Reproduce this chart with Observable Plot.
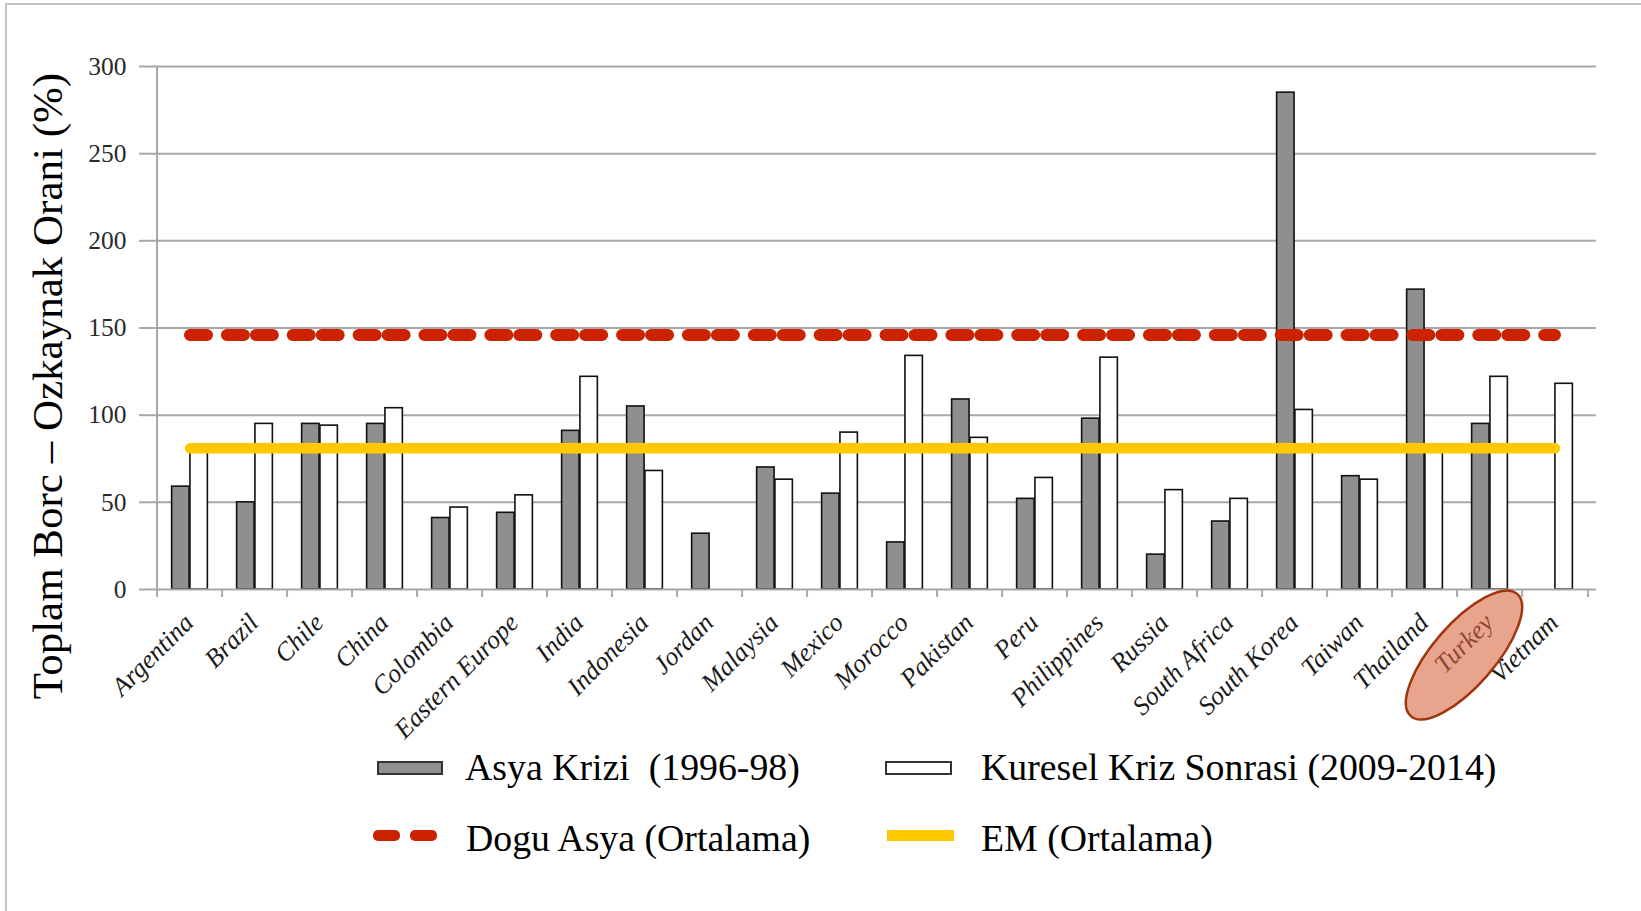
<!DOCTYPE html>
<html>
<head>
<meta charset="utf-8">
<script src="https://cdn.jsdelivr.net/npm/d3@7"></script>
<script src="https://cdn.jsdelivr.net/npm/@observablehq/plot@0.6"></script>
<style>
  html, body { margin: 0; padding: 0; background: #fff; width: 1641px; height: 911px; overflow: hidden; }
  #frame { position: absolute; left: 5px; top: 3px; width: 1700px; height: 1000px; border: 2px solid #c4c4c4; box-sizing: border-box; }
  #chart { position: absolute; left: 0; top: 0; }
  #chart svg [aria-label="x-axis tick label"] text { font-style: italic; }
  .lg { position: absolute; font-family: "Liberation Serif", serif; font-size: 37.8px; line-height: 36px; color: #000; white-space: pre; }
  .sw { position: absolute; box-sizing: border-box; }
</style>
</head>
<body>
<div id="frame"></div>
<div id="chart"></div>
<div id="legend"></div>
<script>
// Debt-to-equity ratios by country, two periods
const countries = ["Argentina", "Brazil", "Chile", "China", "Colombia", "Eastern Europe", "India",
  "Indonesia", "Jordan", "Malaysia", "Mexico", "Morocco", "Pakistan", "Peru", "Philippines",
  "Russia", "South Africa", "South Korea", "Taiwan", "Thailand", "Turkey", "Vietnam"];
const asyaKrizi   = [59, 50, 95, 95, 41, 44, 91, 105, 32, 70, 55, 27, 109, 52, 98, 20, 39, 285, 65, 172, 95, null];
const kureselKriz = [82, 95, 94, 104, 47, 54, 122, 68, null, 63, 90, 134, 87, 64, 133, 57, 52, 103, 63, 80, 122, 118];
const doguAsyaOrtalama = 146;
const emOrtalama = 81;
const yTicks = [0, 50, 100, 150, 200, 250, 300];
const seriesNames = ["Asya Krizi  (1996-98)", "Kuresel Kriz Sonrasi (2009-2014)", "Dogu Asya (Ortalama)", "EM (Ortalama)"];
const yTitle = "Toplam Borc \u2013 Ozkaynak Orani (%)";
const highlighted = "Turkey";

// layout
const W = 1641, H = 750, ML = 147, MR = 45, MT = 66, MB = 161;
const bw = (W - ML - MR) / countries.length;
const barW = 18.3;
const grid = "#a8a8a8";

const asyaRows = countries.map((c, i) => ({country: c, value: asyaKrizi[i]})).filter(d => d.value != null);
const kureselRows = countries.map((c, i) => ({country: c, value: kureselKriz[i]})).filter(d => d.value != null);
const doguRows = countries.map(c => ({country: c, value: doguAsyaOrtalama}));
const emRows = countries.map(c => ({country: c, value: emOrtalama}));

// long dashes in pairs, one pair per category step
const dash = 17, gapS = 12, gapL = bw - 2 * dash - gapS;

const plot = Plot.plot({
  width: W,
  height: H,
  marginLeft: ML,
  marginRight: MR,
  marginTop: MT,
  marginBottom: MB,
  style: {fontFamily: '"Liberation Serif", serif', background: "transparent", overflow: "visible"},
  x: {type: "band", domain: countries, padding: 0, label: null},
  y: {domain: [0, 300], label: null},
  marks: [
    Plot.ruleY(yTicks.filter(t => t > 0), {stroke: grid, strokeWidth: 2}),
    Plot.barY(asyaRows, {x: "country", y: "value", fill: "#8f8f8f", stroke: "#111", strokeWidth: 1.6,
      insetLeft: bw / 2 - barW, insetRight: bw / 2}),
    Plot.barY(kureselRows, {x: "country", y: "value", fill: "#fff", stroke: "#111", strokeWidth: 1.6,
      insetLeft: bw / 2, insetRight: bw / 2 - barW}),
    Plot.ruleY([0], {stroke: grid, strokeWidth: 2}),
    Plot.ruleX([countries[0]], {x: d => d, dx: -bw / 2, stroke: grid, strokeWidth: 2}),
    Plot.ruleX(countries, {x: d => d, dx: -bw / 2, y1: () => 0, y2: () => 0, insetBottom: -8, stroke: grid, strokeWidth: 2}),
    Plot.ruleX([countries[countries.length - 1]], {x: d => d, dx: bw / 2, y1: () => 0, y2: () => 0, insetBottom: -8, stroke: grid, strokeWidth: 2}),
    Plot.lineY(emRows, {x: "country", y: "value", stroke: "#ffc800", strokeWidth: 10.5}),
    Plot.lineY(doguRows, {x: "country", y: "value", stroke: "#cc2200", strokeWidth: 12,
      strokeDasharray: `${dash} ${gapL} ${dash} ${gapS}`, strokeLinecap: "round"}),
    Plot.axisY({ticks: yTicks, tickSize: 8, tickPadding: 13, stroke: grid, strokeWidth: 2,
      fill: "#2a2a2a", fontSize: 25.5, label: null}),
    Plot.axisX({tickSize: 0, tickPadding: 29, tickRotate: -45, fontSize: 26, fontStyle: "italic",
      fill: "#1a1a1a", dx: -1, label: null}),
    Plot.text([yTitle], {frameAnchor: "left", textAnchor: "middle", rotate: -90, dx: -99, dy: 58,
      fontSize: 43, fill: "#000"})
  ]
});
document.getElementById("chart").append(plot);

// highlight ellipse over the Turkey label
const xs = plot.scale("x");
const ys = plot.scale("y");
const ecx = xs.apply(highlighted) + xs.bandwidth / 2 - 25.5;
const ecy = ys.apply(0) + 66;
d3.select(plot).append("ellipse")
  .attr("transform", `translate(${ecx},${ecy}) rotate(-49)`)
  .attr("rx", 81).attr("ry", 31)
  .attr("fill", "rgb(217,103,63)").attr("fill-opacity", 0.6)
  .attr("stroke", "#a0350f").attr("stroke-width", 2.5);

// legend below the chart
const legend = document.getElementById("legend");
const items = [
  {left: 377, top: 761, w: 66, h: 14, style: "background:#8f8f8f;border:2px solid #333", tx: 465, ty: 749, label: seriesNames[0]},
  {left: 885, top: 761, w: 67, h: 14, style: "background:#fff;border:2px solid #333", tx: 981, ty: 749, label: seriesNames[1]},
  {left: 887, top: 830, w: 67, h: 10.5, style: "background:#ffc800", tx: 981, ty: 820, label: seriesNames[3]}
];
for (const it of items) {
  const s = document.createElement("div");
  s.className = "sw";
  s.style.cssText = `left:${it.left}px;top:${it.top}px;width:${it.w}px;height:${it.h}px;${it.style}`;
  legend.append(s);
  const t = document.createElement("div");
  t.className = "lg";
  t.style.left = it.tx + "px";
  t.style.top = it.ty + "px";
  t.textContent = it.label;
  legend.append(t);
}
for (const l of [373, 409.5]) {
  const s = document.createElement("div");
  s.className = "sw";
  s.style.cssText = `left:${l}px;top:830px;width:27px;height:10.5px;background:#cc2200;border-radius:5px`;
  legend.append(s);
}
const t2 = document.createElement("div");
t2.className = "lg";
t2.style.left = "466px";
t2.style.top = "820px";
t2.textContent = seriesNames[2];
legend.append(t2);
</script>
</body>
</html>
